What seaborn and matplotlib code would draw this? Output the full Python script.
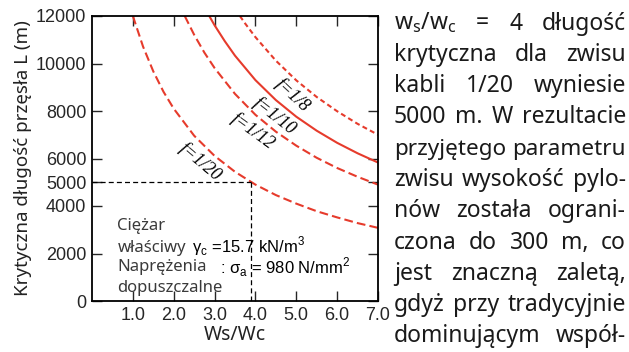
import pandas as pd
import matplotlib
matplotlib.use("Agg")
import matplotlib.pyplot as plt
import seaborn as sns

# --- dane ---
x_f20 = [1.0, 1.25, 1.5, 1.75, 2.0, 2.5, 3.0, 3.5, 4.0, 4.5, 5.0, 5.5, 6.0, 6.5, 7.0]
L_f20 = [12000, 10710, 9670, 8810, 8100, 6960, 6110, 5440, 4900, 4460, 4100, 3780, 3520, 3280, 3080]

x_f12 = [2.27, 2.5, 2.75, 3.0, 3.5, 4.0, 4.5, 5.0, 5.5, 6.0, 6.5, 7.0]
L_f12 = [12000, 11210, 10460, 9810, 8720, 7840, 7130, 6540, 6030, 5600, 5230, 4900]

x_f10 = [2.87, 3.0, 3.25, 3.5, 4.0, 4.5, 5.0, 5.5, 6.0, 6.5, 7.0]
L_f10 = [12000, 11610, 10940, 10330, 9300, 8460, 7760, 7170, 6660, 6220, 5830]

x_f8 = [3.62, 3.75, 4.0, 4.5, 5.0, 5.5, 6.0, 6.5, 7.0]
L_f8 = [12000, 11680, 11110, 10120, 9290, 8590, 7990, 7460, 7000]

curve_names = ['f=1/20', 'f=1/12', 'f=1/10', 'f=1/8']
label_pos = [(2.66, 5850, -40), (3.94, 7150, -36), (4.46, 7800, -38), (4.92, 8650, -43)]

x_ticks = [1.0, 2.0, 3.0, 4.0, 5.0, 6.0, 7.0]
y_ticks = [0, 2000, 4000, 5000, 6000, 8000, 10000, 12000]
ref_x = 3.9
ref_L = 5000

paragraph = [
    ['w$_\\mathregular{s}$/w$_\\mathregular{c}$', '=', '4', 'długość'],
    ['krytyczna', 'dla', 'zwisu'],
    ['kabli', '1/20', 'wyniesie'],
    ['5000', 'm.', 'W', 'rezultacie'],
    ['przyjętego', 'parametru'],
    ['zwisu', 'wysokość', 'pylo-'],
    ['nów', 'została', 'ograni-'],
    ['czona', 'do', '300', 'm,', 'co'],
    ['jest', 'znaczną', 'zaletą,'],
    ['gdyż', 'przy', 'tradycyjnie'],
    ['dominującym', 'współ-'],
]

rows = []
for name, xs, ls in zip(curve_names, [x_f20, x_f12, x_f10, x_f8], [L_f20, L_f12, L_f10, L_f8]):
    for xv, lv in zip(xs, ls):
        rows.append({'krzywa': name, 'ws_wc': xv, 'L': lv})
df = pd.DataFrame(rows)

sns.set_style("ticks")
plt.rcParams['font.family'] = ['Liberation Sans', 'DejaVu Sans']
plt.rcParams['mathtext.fontset'] = 'custom'
plt.rcParams['mathtext.rm'] = 'Noto Sans'

red = '#e63b2c'
W, H = 629, 352
fig = plt.figure(figsize=(W / 100, H / 100), dpi=100)
ax = fig.add_axes([92 / W, 51 / H, 286 / W, 285 / H])

sns.lineplot(data=df, x='ws_wc', y='L', hue='krzywa', style='krzywa',
             palette={n: red for n in curve_names},
             dashes={'f=1/20': (4.2, 2.0), 'f=1/12': (4.2, 2.0), 'f=1/10': '', 'f=1/8': (2.4, 1.6)},
             linewidth=1.5, legend=False, errorbar=None, ax=ax)

# linie pomocnicze
ax.plot([0, ref_x], [ref_L, ref_L], color='black', lw=0.9, dashes=(4, 2.5))
ax.plot([ref_x, ref_x], [0, ref_L], color='black', lw=0.9, dashes=(4, 2.5))

for name, (lx, ly, rot) in zip(curve_names, label_pos):
    ax.text(lx, ly, name, rotation=rot, rotation_mode='anchor', ha='center', va='center',
            fontsize=13, family='Liberation Serif', style='italic', color='black')

ax.set_xlim(0, 7)
ax.set_ylim(0, 12000)
ax.set_xticks(x_ticks)
ax.set_xticklabels([f'{v:.1f}' for v in x_ticks])
ax.set_yticks(y_ticks)
ax.set_yticklabels([str(v) for v in y_ticks])
ax.tick_params(direction='in', length=7, width=1, labelsize=13, top=True, right=True,
               labeltop=False, labelright=False, pad=4)
for sp in ax.spines.values():
    sp.set_linewidth(1.3)
    sp.set_color('black')

ax.set_xlabel('Ws/Wc', fontsize=14, family='Noto Sans', color='#222222', labelpad=1)
ax.set_ylabel('Krytyczna długość przęsła L (m)', fontsize=13.5, family='Noto Sans',
              color='#222222', labelpad=3)

# opis w polu wykresu
gray = '#3a3a3a'
ax.text(0.62, 2983, 'Ciężar', fontsize=12, family='Noto Sans', color=gray)
ax.text(0.62, 2059, 'właściwy', fontsize=12, family='Noto Sans', color=gray)
ax.text(0.62, 1261, 'Naprężenia', fontsize=12, family='Noto Sans', color=gray)
ax.text(0.62, 378, 'dopuszczalne', fontsize=12, family='Noto Sans', color=gray)
plt.rcParams['mathtext.rm'] = 'Liberation Sans'
ax.text(2.45, 2059, 'γ$_\\mathregular{c}$ =15.7 kN/m$^\\mathregular{3}$', fontsize=12, color='black')
ax.text(3.13, 1176, ': σ$_\\mathregular{a}$ = 980 N/mm$^\\mathregular{2}$', fontsize=12, color='black')

# akapit tekstu po prawej (wyjustowany)
plt.rcParams['mathtext.rm'] = 'Noto Sans'
renderer = fig.canvas.get_renderer()
left_px, right_px = 394, 626
base0, step = 29.5, 31.3
base_size, min_gap = 16.5, 6
for i, words in enumerate(paragraph):
    yb = H - (base0 + i * step)
    objs = [fig.text(0, yb / H, w, fontsize=base_size, family='Noto Sans', color='#1a1a1a',
                     va='baseline', ha='left') for w in words]
    widths = [o.get_window_extent(renderer).width for o in objs]
    n_gaps = max(len(words) - 1, 1)
    avail = right_px - left_px - min_gap * n_gaps
    if sum(widths) > avail:
        scale = avail / sum(widths)
        for o in objs:
            o.set_fontsize(base_size * scale)
        widths = [o.get_window_extent(renderer).width for o in objs]
    gap = (right_px - left_px - sum(widths)) / n_gaps
    xpos = left_px
    for o, wd in zip(objs, widths):
        o.set_x(xpos / W)
        xpos += wd + gap

fig.savefig('out.png', dpi=100)
